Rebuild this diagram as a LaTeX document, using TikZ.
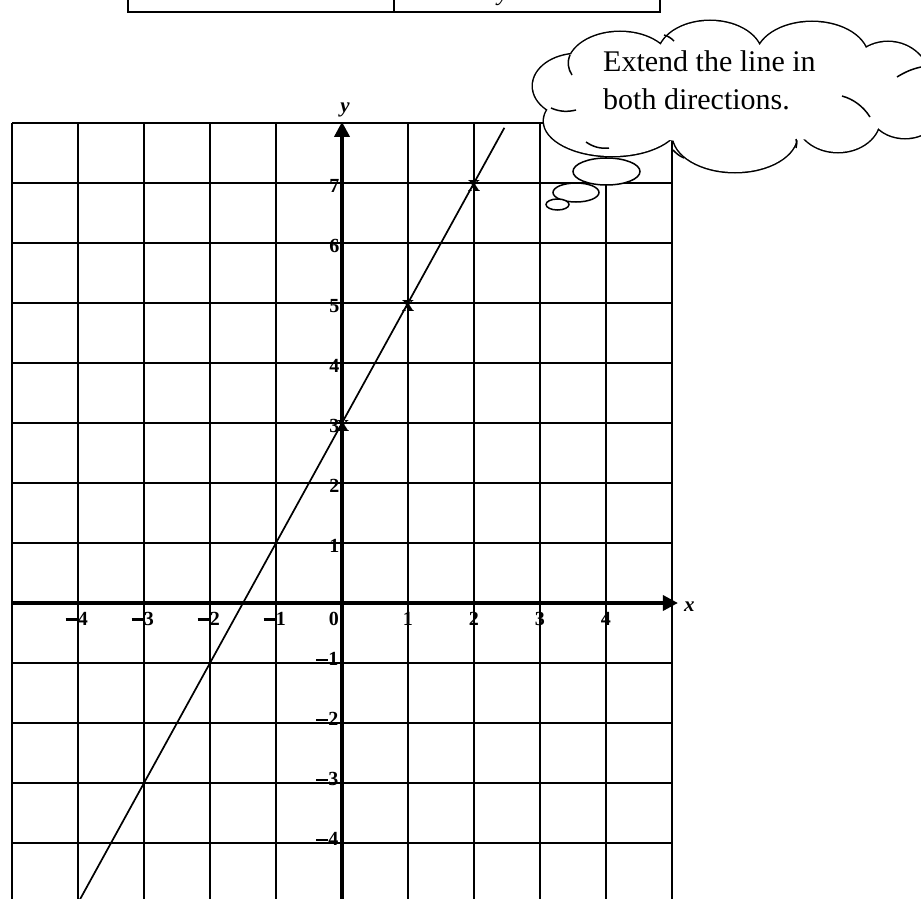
\documentclass[tikz,border=0pt]{standalone}
\usepackage{fontspec}
\setmainfont{Liberation Serif}
\usetikzlibrary{arrows.meta}
% bold minus sign used in the negative tick labels
\newcommand\negsign{\rule[4.4pt]{12pt}{2.3pt}\kern0.3pt}

\begin{document}
\begin{tikzpicture}[x=1pt,y=1pt,
  gridline/.style={line width=1.1pt},
  axisline/.style={line width=3.4pt,-{Triangle[length=15pt,width=15pt]}},
  ticklabel/.style={font=\fontsize{20}{20}\selectfont\bfseries,inner sep=0pt},
  axislabel/.style={font=\fontsize{21}{21}\selectfont\bfseries\itshape,inner sep=0pt},
  crossmark/.style={font=\fontsize{24}{24}\selectfont\bfseries,inner sep=0pt},
  graphline/.style={line width=1.7pt},
  cloudline/.style={line width=1.5pt},
  boxline/.style={line width=2pt}]
\useasboundingbox (0,0) rectangle (921,-899);
\clip (0,0) rectangle (921,-899);

% table row from above
\draw[boxline] (128,8) -- (128,-12) -- (660,-12) -- (660,8);
\draw[boxline] (394,8) -- (394,-12);
\node[font=\fontsize{24}{24}\selectfont\itshape,inner sep=0pt,anchor=base] (tabval) at (503,-1) {y};

% coordinate plane
\begin{scope}[shift={(342,-603)},x=66pt,y=60pt]
  \foreach \i in {-5,...,5} \draw[gridline] (\i,-5.1) -- (\i,8);
  \foreach \j in {-5,...,8} \draw[gridline] (-5,\j) -- (5,\j);

  \coordinate (xstart) at (-5,0);
  \coordinate (xend) at (5.09,0);
  \coordinate (ystart) at (0,-5.1);
  \coordinate (yend) at (0,8.02);
  \draw[axisline] (xstart) -- (xend);
  \draw[axisline] (ystart) -- (yend);
  \node[axislabel,anchor=base west] (xlab) at ([xshift=6pt,yshift=-8pt]xend) {x};
  \node[axislabel,anchor=base] (ylab) at ([xshift=3pt,yshift=9pt]yend) {y};

  % x tick labels
  \foreach \i in {1,...,4}
    \node[ticklabel,anchor=base east] (xl\i) at ([xshift=5pt,yshift=-22pt]\i,0) {\i};
  \foreach \i in {1,...,4}
    \node[ticklabel,anchor=base east] (xlm\i) at ([xshift=10pt,yshift=-22pt]-\i,0) {\negsign\i};
  \node[ticklabel,anchor=base east] (xl0) at ([xshift=-3pt,yshift=-22pt]0,0) {0};

  % y tick labels
  \foreach \j in {1,...,7}
    \node[ticklabel,anchor=base east] (yl\j) at ([xshift=-2.5pt,yshift=-9.5pt]0,\j) {\j};
  \foreach \j in {1,...,4}
    \node[ticklabel,anchor=base east] (ylm\j) at ([xshift=-3.5pt,yshift=-2.5pt]0,-\j) {\negsign\j};

  % the line y = 2x + 3 and its plotted points
  \coordinate (lineA) at (-4.0,-5.0);
  \coordinate (lineB) at (2.46,7.92);
  \draw[graphline] (lineA) -- (lineB);
  \node[crossmark] (p0) at ([xshift=1pt,yshift=-2.5pt]0,3) {x};
  \node[crossmark] (p1) at ([yshift=-2.5pt]1,5) {x};
  \node[crossmark] (p2) at ([yshift=-2.5pt]2,7) {x};
\end{scope}

% thought cloud: outlined puffs, then a white fill leaves only the outer edge
\def\puffs{
  (578,-86) ellipse [x radius=45,y radius=32]
  (620,-66) ellipse [x radius=52,y radius=34]
  (710,-56) ellipse [x radius=52,y radius=35]
  (812,-58) ellipse [x radius=56,y radius=36]
  (888,-82) ellipse [x radius=42,y radius=40]
  (905,-108) ellipse [x radius=36,y radius=30]
  (838,-118) ellipse [x radius=42,y radius=34]
  (735,-135) ellipse [x radius=62,y radius=37]
  (612,-121) ellipse [x radius=68,y radius=35]}
\draw[line width=3pt] \puffs;
\fill[white] \puffs;
\fill[white] (735,-95) ellipse [x radius=150,y radius=50];
% short inner arcs where the puffs meet
\draw[cloudline] (570,-55) .. controls (567,-62) and (568,-69) .. (572,-75);
\draw[cloudline] (551,-108) .. controls (560,-112) and (568,-112) .. (576,-110);
\draw[cloudline] (586,-142) .. controls (593,-147) and (601,-149) .. (609,-148);
\draw[cloudline] (673,-150) .. controls (676,-153) and (679,-156) .. (684,-158);
\draw[cloudline] (796,-139) .. controls (797,-142) and (797,-145) .. (796,-148);
\draw[cloudline] (842,-96) .. controls (853,-99) and (863,-106) .. (870,-117);
\draw[cloudline] (897,-77) .. controls (905,-72) and (912,-69) .. (921,-67);
\draw[cloudline] (664,-35) .. controls (668,-36) and (671,-38) .. (674,-41);
\node[font=\fontsize{30}{37}\selectfont,align=left,anchor=base west,inner sep=0pt]
  (thought) at (603,-109) {Extend the line in\\both directions.};

% trailing bubbles
\filldraw[cloudline,fill=white] (606.5,-171.5) ellipse [x radius=33.5,y radius=13.5];
\filldraw[cloudline,fill=white] (576,-192.5) ellipse [x radius=23,y radius=9.5];
\filldraw[cloudline,fill=white] (557.5,-204.5) ellipse [x radius=11.5,y radius=5.5];
\end{tikzpicture}
\end{document}
